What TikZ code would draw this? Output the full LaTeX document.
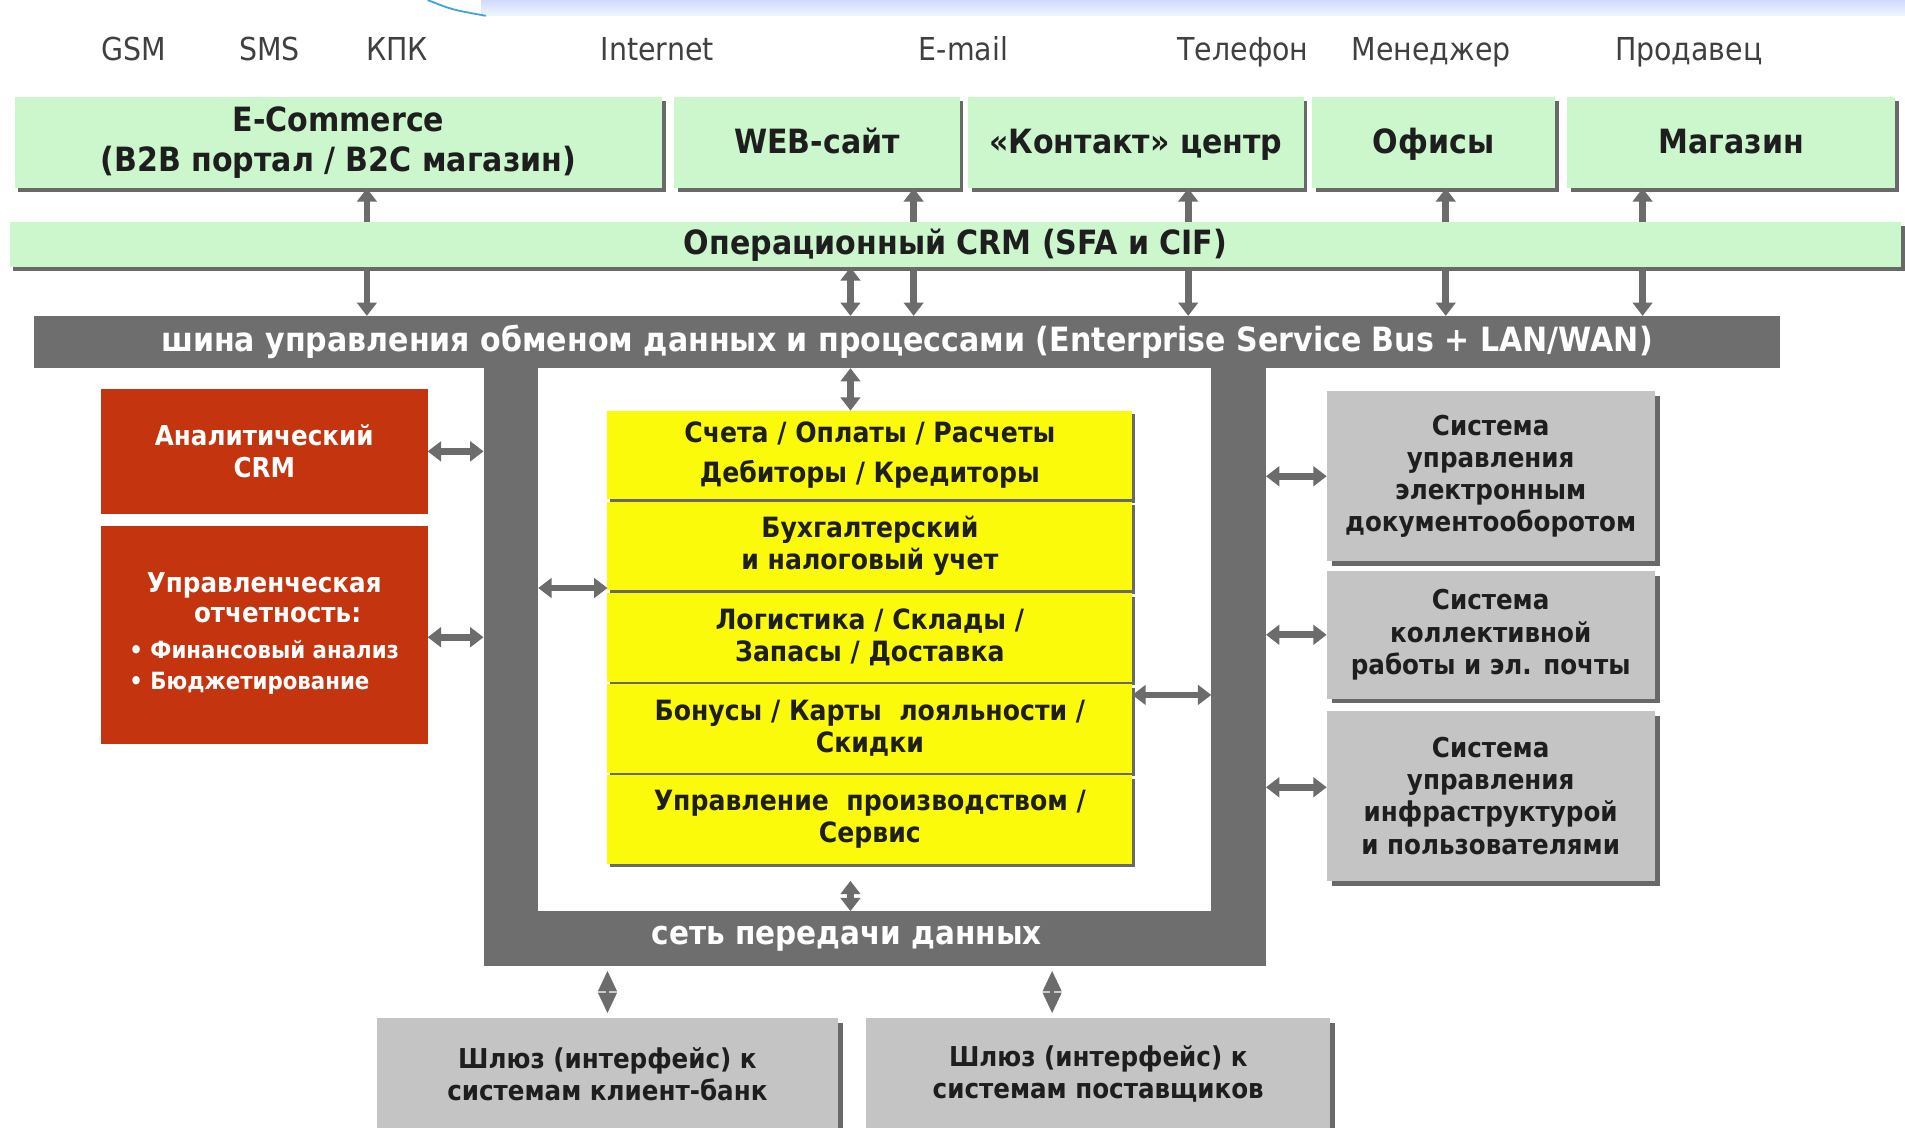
\documentclass[tikz,border=0pt]{standalone}
\usepackage{fontspec}
\setmainfont{DejaVu Sans Condensed}
\usetikzlibrary{arrows.meta,shadows}
\definecolor{grn}{RGB}{204,247,204}
\definecolor{busgray}{RGB}{110,110,110}
\definecolor{shad}{RGB}{105,105,105}
\definecolor{yel}{RGB}{250,250,10}
\definecolor{redbox}{RGB}{196,52,14}
\definecolor{graybox}{RGB}{196,196,196}
\definecolor{arrgray}{RGB}{108,108,108}
\definecolor{band}{RGB}{222,240,252}
\definecolor{bandline}{RGB}{70,160,220}
\definecolor{txt}{RGB}{30,30,30}
\tikzset{
  tip/.tip={Triangle[length=11pt,width=16pt]},
  dtip/.tip={Triangle[length=17pt,width=15pt]},
  arr/.style={draw=arrgray, line width=5.5pt, -tip},
  darr/.style={draw=arrgray, line width=5.5pt, tip-tip},
  diam/.style={draw=arrgray, line width=3pt, dtip-dtip},
  toplbl/.style={font=\fontsize{26}{28}\selectfont, text=black!75, text height=19pt, text depth=6pt},
  base/.style={anchor=north west, align=center, inner sep=0pt, outer sep=0pt},
  gbox/.style={base, fill=grn, text=txt, font=\bfseries\fontsize{27.5}{33}\selectfont,
    general shadow={fill=shad, shadow xshift=3pt, shadow yshift=-3pt}},
  g1line/.style={text height=24pt, text depth=6pt},
  ybox/.style={base, fill=yel, text=txt, minimum width=432pt, minimum height=73pt,
    font=\bfseries\fontsize{23}{26.5}\selectfont,
    general shadow={fill=shad, shadow xshift=2pt, shadow yshift=-3pt}},
  rbox/.style={base, fill=redbox, text=white, minimum width=269pt,
    font=\bfseries\fontsize{22.5}{26}\selectfont},
  sbox/.style={base, fill=graybox, text=txt, minimum width=270pt,
    font=\bfseries\fontsize{22.5}{26.5}\selectfont,
    general shadow={fill=shad, shadow xshift=4pt, shadow yshift=-4pt}},
}
\begin{document}
\begin{tikzpicture}[x=1pt,y=-1pt]
\useasboundingbox (0,0) rectangle (1568,928);
\fill[white] (0,0) rectangle (1568,928);
% top decorative band
\shade[top color=band!80!blue!60!white, bottom color=band!50!white] (396,0) rectangle (1568,13);
\draw[bandline, line width=1.5pt] (352,0) .. controls (372,8) .. (400,13);

% top labels
\node[toplbl] (lgsm) at (110,43) {GSM};
\node[toplbl] (lsms) at (222,43) {SMS};
\node[toplbl] (lkpk) at (327,43) {КПК};
\node[toplbl] (lint) at (541,43) {Internet};
\node[toplbl] (lmail) at (793,43) {E-mail};
\node[toplbl] (ltel) at (1023,43) {Телефон};
\node[toplbl] (lman) at (1178,43) {Менеджер};
\node[toplbl] (lsel) at (1390,43) {Продавец};

% green channel boxes
\node[gbox, minimum width=533pt, minimum height=75pt] (ecom) at (12,80) {E-Commerce\\(B2B портал / B2C магазин)};
\node[gbox, g1line, minimum width=235pt, minimum height=75pt] (web) at (555,80) {WEB-сайт};
\node[gbox, g1line, minimum width=276pt, minimum height=75pt] (kont) at (797,80) {«Контакт» центр};
\node[gbox, g1line, minimum width=200pt, minimum height=75pt] (ofis) at (1080,80) {Офисы};
\node[gbox, g1line, minimum width=270pt, minimum height=75pt] (mag) at (1290,80) {Магазин};

% operational CRM bar
\node[gbox, minimum width=1557pt, minimum height=37pt] (crm) at (8,183) {Операционный CRM (SFA и CIF)};

% data network frame
\node[base, fill=busgray, minimum width=644pt, minimum height=492pt] (frame) at (398,303) {};
\node[base, fill=white, minimum width=554pt, minimum height=447pt] (inner) at (443,303) {};
\node[text=white, font=\bfseries\fontsize{27}{30}\selectfont] (net) at (697,773) {сеть передачи данных};

% bus
\node[base, fill=busgray, text=white, minimum width=1437pt, minimum height=43pt,
  font=\bfseries\fontsize{27.5}{30}\selectfont] (bus) at (28,260)
  {шина управления обменом данных и процессами (Enterprise Service Bus + LAN/WAN)};

% yellow modules
\node[ybox] (y1) at (500,338) {Счета / Оплаты / Расчеты\\[7pt]Дебиторы / Кредиторы};
\node[ybox] (y2) at (500,413) {Бухгалтерский\\и налоговый учет};
\node[ybox] (y3) at (500,488) {Логистика / Склады /\\Запасы / Доставка};
\node[ybox] (y4) at (500,563) {Бонусы / Карты~ лояльности /\\Скидки};
\node[ybox] (y5) at (500,638) {Управление~ производством /\\Сервис};

% red boxes
\node[rbox, minimum height=103pt] (r1) at (83,320) {Аналитический\\CRM};
\node[rbox, minimum height=179pt] (r2) at (83,433) {%
  \begin{tabular}{@{}l@{}}
  \multicolumn{1}{@{}c@{}}{Управленческая}\\[-1pt]
  \multicolumn{1}{@{}c@{}}{\hspace{22pt}отчетность:}\\[3pt]
  \fontsize{19.5}{22}\selectfont • Финансовый анализ\\[0pt]
  \fontsize{19.5}{22}\selectfont • Бюджетирование
  \end{tabular}};

% gray system boxes
\node[sbox, minimum height=140pt] (s1) at (1092,322) {Система\\управления\\электронным\\документооборотом};
\node[sbox, minimum height=105pt] (s2) at (1092,470) {Система\\коллективной\\работы и эл. почты};
\node[sbox, minimum height=140pt] (s3) at (1092,585) {Система\\управления\\инфраструктурой\\и пользователями};

% gateways
\node[sbox, minimum width=380pt, minimum height=92pt] (g1) at (310,838) {Шлюз (интерфейс) к\\системам клиент-банк};
\node[sbox, minimum width=382pt, minimum height=92pt] (g2) at (713,838) {Шлюз (интерфейс) к\\системам поставщиков};

% helper coordinates
\coordinate (c302) at (302,0);
\coordinate (c700) at (700,0);
\coordinate (c752) at (752,0);
\coordinate (c978) at (978,0);
\coordinate (c1190) at (1190,0);
\coordinate (c1352) at (1352,0);
\coordinate (c866) at (866,0);
\coordinate (ly) at (0,484);
\coordinate (ry) at (0,572);
\coordinate (s3y) at (0,648);

% channel <- CRM
\draw[arr] (crm.north -| c302) -- (ecom.south -| c302);
\draw[arr] (crm.north -| c752) -- (web.south -| c752);
\draw[arr] (crm.north -| c978) -- (kont.south -| c978);
\draw[arr] (crm.north -| c1190) -- (ofis.south -| c1190);
\draw[arr] (crm.north -| c1352) -- (mag.south -| c1352);
% CRM -> bus
\draw[arr] (crm.south -| c302) -- (bus.north -| c302);
\draw[darr] (crm.south -| c700) -- (bus.north -| c700);
\draw[arr] (crm.south -| c752) -- (bus.north -| c752);
\draw[arr] (crm.south -| c978) -- (bus.north -| c978);
\draw[arr] (crm.south -| c1190) -- (bus.north -| c1190);
\draw[arr] (crm.south -| c1352) -- (bus.north -| c1352);
% bus <-> modules, modules <-> network
\draw[darr] (bus.south -| c700) -- (y1.north -| c700);
\draw[darr] ([yshift=-14pt]y5.south -| c700) -- (inner.south -| c700);
\draw[darr] (inner.west |- ly) -- (y2.west |- ly);
\draw[darr] (y4.east |- ry) -- (inner.east |- ry);
% red boxes
\draw[darr] (r1.east) -- (r1.east -| frame.west);
\draw[darr] ([yshift=-2pt]r2.east) -- ([yshift=-2pt]r2.east -| frame.west);
% gray systems
\draw[darr] (s1.west -| frame.east) -- (s1.west);
\draw[darr] (s2.west -| frame.east) -- (s2.west);
\draw[darr] (frame.east |- s3y) -- (s3.west |- s3y);
% gateways
\draw[diam] ([yshift=-4pt]frame.south -| g1.north) -- ([yshift=4pt]g1.north);
\draw[diam] ([yshift=-4pt]frame.south -| c866) -- ([yshift=4pt]g2.north -| c866);
\end{tikzpicture}
\end{document}
